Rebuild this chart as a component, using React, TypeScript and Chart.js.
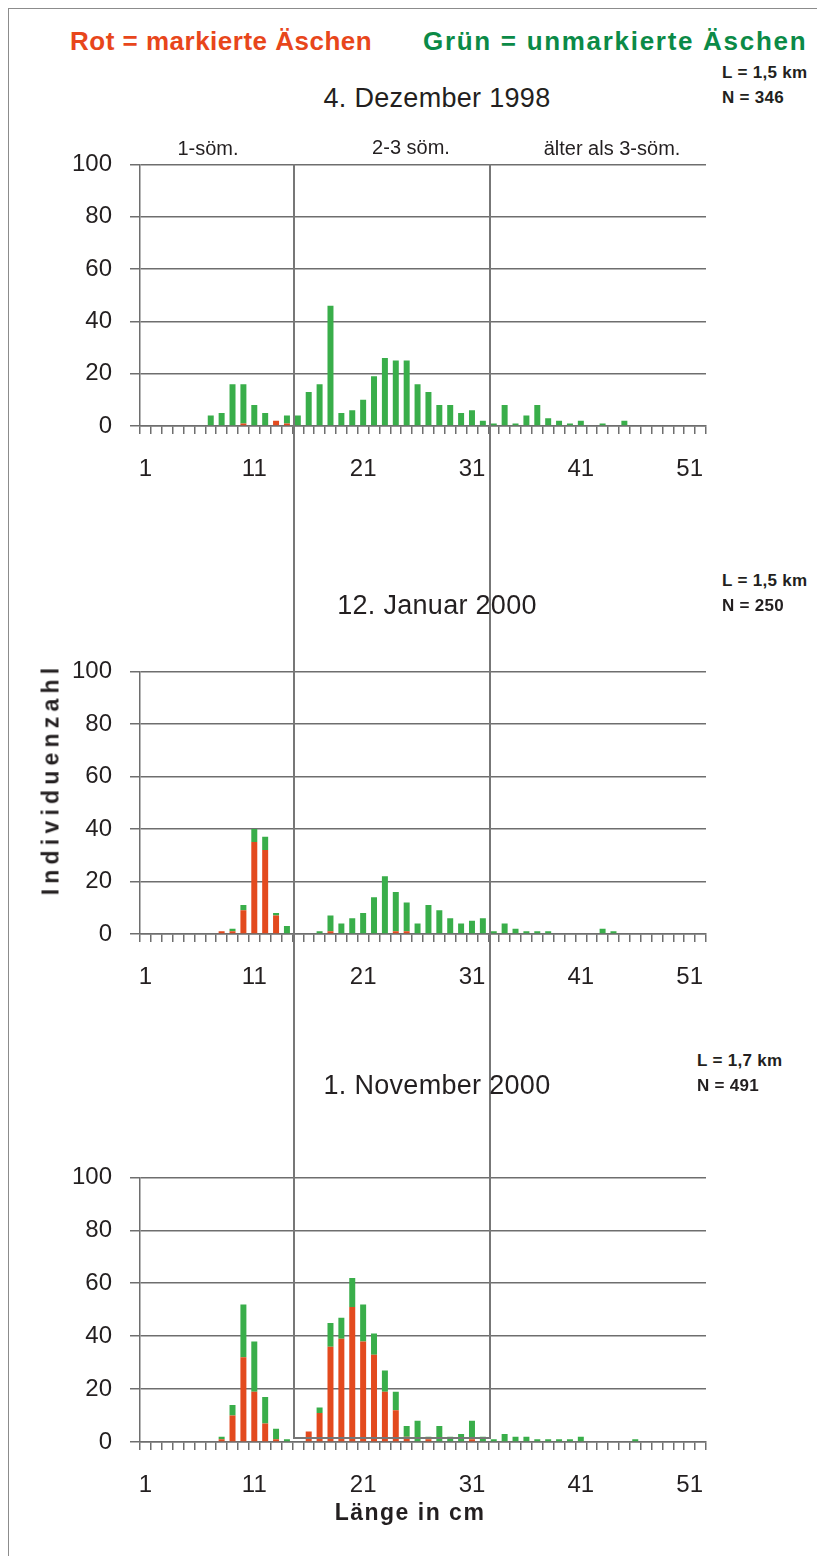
import React, { useEffect, useRef } from "react";
import { Chart, registerables } from "chart.js";

Chart.register(...registerables);

// ---------- data ----------
const lengthCategories = [
  "1", "2", "3", "4", "5", "6", "7", "8", "9", "10",
  "11", "12", "13", "14", "15", "16", "17", "18", "19", "20",
  "21", "22", "23", "24", "25", "26", "27", "28", "29", "30",
  "31", "32", "33", "34", "35", "36", "37", "38", "39", "40",
  "41", "42", "43", "44", "45", "46", "47", "48", "49", "50",
  "51", "52",
];
const tickLabels = ["1", "11", "21", "31", "41", "51"];
const yTicks = [0, 20, 40, 60, 80, 100];

// 4. Dezember 1998
const dec1998Marked = [
  0, 0, 0, 0, 0, 0, 0, 0, 0, 1,
  0, 0, 2, 1, 0, 0, 0, 0, 0, 0,
  0, 0, 0, 0, 0, 0, 0, 0, 0, 0,
  0, 0, 0, 0, 0, 0, 0, 0, 0, 0,
  0, 0, 0, 0, 0, 0, 0, 0, 0, 0,
  0, 0,
];
const dec1998Unmarked = [
  0, 0, 0, 0, 0, 0, 4, 5, 16, 15,
  8, 5, 0, 3, 4, 13, 16, 46, 5, 6,
  10, 19, 26, 25, 25, 16, 13, 8, 8, 5,
  6, 2, 1, 8, 1, 4, 8, 3, 2, 1,
  2, 0, 1, 0, 2, 0, 0, 0, 0, 0,
  0, 0,
];

// 12. Januar 2000
const jan2000Marked = [
  0, 0, 0, 0, 0, 0, 0, 1, 1, 9,
  35, 32, 7, 0, 0, 0, 0, 1, 0, 0,
  0, 0, 0, 1, 1, 0, 0, 0, 0, 0,
  0, 0, 0, 0, 0, 0, 0, 0, 0, 0,
  0, 0, 0, 0, 0, 0, 0, 0, 0, 0,
  0, 0,
];
const jan2000Unmarked = [
  0, 0, 0, 0, 0, 0, 0, 0, 1, 2,
  5, 5, 1, 3, 0, 0, 1, 6, 4, 6,
  8, 14, 22, 15, 11, 4, 11, 9, 6, 4,
  5, 6, 1, 4, 2, 1, 1, 1, 0, 0,
  0, 0, 2, 1, 0, 0, 0, 0, 0, 0,
  0, 0,
];

// 1. November 2000
const nov2000Marked = [
  0, 0, 0, 0, 0, 0, 0, 1, 10, 32,
  19, 7, 1, 0, 0, 4, 11, 36, 39, 51,
  38, 33, 19, 12, 2, 0, 1, 0, 0, 0,
  1, 0, 0, 0, 0, 0, 0, 0, 0, 0,
  0, 0, 0, 0, 0, 0, 0, 0, 0, 0,
  0, 0,
];
const nov2000Unmarked = [
  0, 0, 0, 0, 0, 0, 0, 1, 4, 20,
  19, 10, 4, 1, 0, 0, 2, 9, 8, 11,
  14, 8, 8, 7, 4, 8, 1, 6, 2, 3,
  7, 2, 1, 3, 2, 2, 1, 1, 1, 1,
  2, 0, 0, 0, 0, 1, 0, 0, 0, 0,
  0, 0,
];

// ---------- styles ----------
const FONT = '"Liberation Sans", Arial, Helvetica, sans-serif';
const TEXT = "#231F20";
const GRID = "#6e6e6e";
const RED = "#E34A1E";
const GREEN = "#39AE4A";

type HistProps = {
  plotTop: number;
  plotBottom: number;
  marked: number[];
  unmarked: number[];
};

function Histogram({ plotTop, plotBottom, marked, unmarked }: HistProps) {
  const ref = useRef<HTMLCanvasElement>(null);
  const padTop = 32;
  const xAxisH = 70;
  const width = 730;
  const height = plotBottom - plotTop + padTop + xAxisH;

  useEffect(() => {
    if (!ref.current) return;
    const chart = new Chart(ref.current, {
      type: "bar",
      data: {
        labels: lengthCategories,
        datasets: [
          {
            label: "markierte Äschen",
            data: marked,
            backgroundColor: RED,
            barPercentage: 0.55,
            categoryPercentage: 1,
            stack: "s",
          },
          {
            label: "unmarkierte Äschen",
            data: unmarked,
            backgroundColor: GREEN,
            barPercentage: 0.55,
            categoryPercentage: 1,
            stack: "s",
          },
        ],
      },
      options: {
        animation: false,
        responsive: false,
        maintainAspectRatio: false,
        layout: { padding: { top: padTop, right: width - 706, left: 0, bottom: 0 } },
        plugins: { legend: { display: false }, tooltip: { enabled: false } },
        scales: {
          x: {
            stacked: true,
            offset: true,
            grid: {
              offset: true,
              drawOnChartArea: false,
              drawTicks: true,
              tickLength: 8,
              color: GRID,
              lineWidth: 1.5,
            },
            border: { display: true, color: GRID, width: 1.5 },
            ticks: {
              autoSkip: false,
              maxRotation: 0,
              minRotation: 0,
              padding: 21,
              color: TEXT,
              font: { family: FONT, size: 24 },
              callback: (_v: any, i: number) =>
                tickLabels.includes(lengthCategories[i]) ? lengthCategories[i] : "",
            },
            afterFit: (s: any) => {
              s.height = xAxisH;
            },
          },
          y: {
            stacked: true,
            min: yTicks[0],
            max: yTicks[yTicks.length - 1],
            ticks: {
              stepSize: yTicks[1] - yTicks[0],
              padding: 18,
              color: TEXT,
              font: { family: FONT, size: 24 },
            },
            grid: { color: GRID, lineWidth: 1.5, tickLength: 10 },
            border: { color: GRID, width: 1.5 },
            afterFit: (s: any) => {
              s.width = 140;
            },
          },
        },
      },
    });
    return () => chart.destroy();
  }, []);

  return (
    <canvas
      ref={ref}
      width={width}
      height={height}
      style={{ position: "absolute", left: 0, top: plotTop - padTop, width, height }}
    />
  );
}

type TextProps = {
  x: number;
  y: number;
  text: string;
  size: number;
  bold?: boolean;
  color?: string;
  anchor?: "left" | "center";
  spacing?: number;
  rotate?: boolean;
};

function Txt({ x, y, text, size, bold, color, anchor = "center", spacing = 0, rotate }: TextProps) {
  const tx = anchor === "center" ? "-50%" : "0";
  return (
    <div
      style={{
        position: "absolute",
        left: x,
        top: y,
        transform: `translate(${tx}, -50%)${rotate ? " rotate(-90deg)" : ""}`,
        transformOrigin: rotate ? "50% 50%" : undefined,
        fontFamily: FONT,
        fontSize: size,
        fontWeight: bold ? 700 : 400,
        color: color || TEXT,
        letterSpacing: spacing,
        lineHeight: 1,
        whiteSpace: "nowrap",
      }}
    >
      {text}
    </div>
  );
}

function Line({ x, y, w, h }: { x: number; y: number; w: number; h: number }) {
  return (
    <div
      style={{ position: "absolute", left: x, top: y, width: w, height: h, background: "#777" }}
    />
  );
}

export default function App() {
  useEffect(() => {
    document.body.style.overflow = "hidden";
  }, []);
  return (
    <div
      style={{
        position: "absolute",
        left: 0,
        top: 0,
        width: 817,
        height: 1556,
        overflow: "hidden",
        background: "#fff",
      }}
    >
      <div
        style={{
          position: "absolute",
          left: 8,
          top: 8,
          width: 1000,
          height: 2000,
          border: "1.5px solid #8c8c8c",
        }}
      />

      <Histogram plotTop={164} plotBottom={426} marked={dec1998Marked} unmarked={dec1998Unmarked} />
      <Histogram plotTop={671} plotBottom={934} marked={jan2000Marked} unmarked={jan2000Unmarked} />
      <Histogram plotTop={1177} plotBottom={1442} marked={nov2000Marked} unmarked={nov2000Unmarked} />

      {/* age-class bracket */}
      <Line x={293} y={164} w={1.5} h={1275} />
      <Line x={489} y={164} w={1.5} h={1275} />
      <Line x={293} y={1437} w={198} h={1.5} />

      <Txt x={70} y={41} text="Rot = markierte Äschen" size={26} bold color="#E8461B" anchor="left" spacing={0.5} />
      <Txt x={423} y={41} text="Grün = unmarkierte Äschen" size={26} bold color="#0B8A47" anchor="left" spacing={1.7} />

      <Txt x={437} y={98} text="4. Dezember 1998" size={27} spacing={0.3} />
      <Txt x={722} y={72} text="L = 1,5 km" size={17} bold anchor="left" spacing={0.3} />
      <Txt x={722} y={97} text="N = 346" size={17} bold anchor="left" spacing={0.3} />

      <Txt x={208} y={148} text="1-söm." size={20} />
      <Txt x={411} y={147} text="2-3 söm." size={20} />
      <Txt x={612} y={148} text="älter als 3-söm." size={20} />

      <Txt x={437} y={605} text="12. Januar 2000" size={27} spacing={0.3} />
      <Txt x={722} y={580} text="L = 1,5 km" size={17} bold anchor="left" spacing={0.3} />
      <Txt x={722} y={605} text="N = 250" size={17} bold anchor="left" spacing={0.3} />

      <Txt x={437} y={1085} text="1. November 2000" size={27} spacing={0.3} />
      <Txt x={697} y={1060} text="L = 1,7 km" size={17} bold anchor="left" spacing={0.3} />
      <Txt x={697} y={1085} text="N = 491" size={17} bold anchor="left" spacing={0.3} />

      <Txt x={51} y={779} text="Individuenzahl" size={23} bold rotate spacing={5.2} />
      <Txt x={410} y={1512} text="Länge in cm" size={23} bold spacing={1.5} />
    </div>
  );
}
